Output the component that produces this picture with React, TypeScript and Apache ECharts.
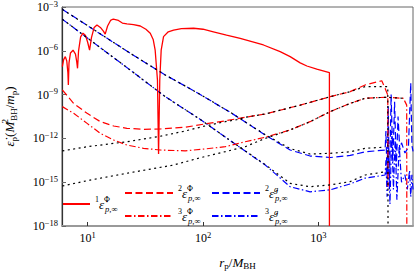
import { useEffect, useRef } from "react";
import * as echarts from "echarts";

type P = [number, number];

const xMin = 6;
const xMax = 6600;
const yMin = 1e-18;
const yMax = 1e-3;

// series names (legend keys)
const N1PHI = "1Φ";
const N2PHI = "2Φ";
const N3PHI = "3Φ";
const N2G = "2g";
const N3G = "3g";

// 1 eps^Phi_{p,inf}  (red solid)
const onePhi: P[] = [
  [6.04, 8.1e-8], [6.2, 2.5e-7], [6.41, 4.0e-7], [6.6, 2.0e-7], [6.75, 3e-8], [6.81, 4.6e-9],
  [6.9, 1.5e-7], [7.1, 7e-7], [7.48, 1.1e-6], [7.85, 6e-7], [8.05, 1.8e-7], [8.18, 6.3e-8],
  [8.35, 1e-6], [8.7, 9e-6], [9.12, 1.6e-5], [9.6, 1.1e-5], [10.0, 4e-6], [10.4, 1.1e-6],
  [10.8, 8e-6], [11.4, 4e-5], [12.05, 5.9e-5], [12.9, 4e-5], [13.7, 2.2e-5], [14.2, 1.4e-5],
  [14.9, 5e-5], [15.8, 1.2e-4], [16.7, 1.5e-4], [18.5, 1.2e-4], [20, 8e-5], [21.9, 6.9e-5],
  [25, 6.2e-5], [28.6, 5.0e-5], [32, 3.0e-5], [34.9, 1.6e-5], [37, 6e-6], [38.5, 1.1e-6],
  [40.3, 1e-8], [41.2, 8.5e-14], [42.2, 1e-8], [43.4, 1.1e-6], [45.5, 9.3e-6], [50, 2e-5],
  [55.6, 2.6e-5], [65, 3.3e-5], [82.8, 3.5e-5], [100, 3e-5], [123, 2.0e-5], [160, 1.2e-5],
  [210, 7.2e-6], [334, 2.5e-6], [466, 8.7e-7], [569, 4.0e-7], [695, 1.5e-7], [794, 9.1e-8],
  [968, 5.6e-8], [1245, 3.2e-8], [1245.5, 1e-18],
];

// 2 eps^Phi (red dashed)
const twoPhi: P[] = [
  [6.04, 2.1e-9], [7.57, 2.5e-10], [9.9, 5.2e-11], [12.9, 1.4e-11], [16.8, 7.1e-12],
  [21.9, 4.9e-12], [30.5, 4.2e-12], [42.6, 4.4e-12], [70, 5.8e-12], [104, 9.8e-12],
  [156, 1.6e-11], [232, 2.8e-11], [346, 4.7e-11], [695, 1.9e-10], [1265, 7.2e-10],
  [1884, 1.6e-9], [2540, 4.6e-9], [3540, 8.9e-9], [3780, 2.7e-9], [3990, 9.3e-10], [4010, 5e-16],
];

// 3 eps^Phi (red dash-dot)
const threePhi: P[] = [
  [6.04, 1.5e-10], [7.57, 5.2e-11], [9.9, 1.07e-11], [12.9, 2.2e-12], [16.8, 7.8e-13],
  [21.9, 3.5e-13], [30.5, 2.1e-13], [42.6, 1.6e-13], [70, 1.4e-13], [104, 1.9e-13],
  [156, 2.7e-13], [232, 5.9e-13], [346, 1.2e-12], [569, 3.8e-12], [847, 1.4e-11],
  [1265, 6.8e-11], [1884, 2.5e-10], [2540, 5.6e-10], [3785, 6.6e-10], [5445, 5.6e-10],
  [5820, 1.9e-10], [5835, 1e-18],
];

// 2 eps^g (blue dashed)
const twoG: P[] = [
  [6.04, 6.9e-4], [23.4, 6.8e-7], [47.1, 2.2e-8], [91.4, 1.2e-9], [178, 5.2e-11],
  [346, 1.7e-12], [569, 1.6e-13], [847, 6.2e-14], [1265, 4.9e-14], [1884, 6.8e-14],
  [2540, 1.2e-13], [3785, 1.6e-13], [3846, 3.2e-12], [3936, 1.6e-15], [4027, 1.6e-10],
  [4121, 3.2e-16], [4266, 1e-9], [4416, 2.5e-14], [4571, 3.2e-10], [4732, 1e-14],
  [4898, 3.2e-11], [5070, 1.6e-13], [5248, 5e-13], [5623, 1e-13], [6026, 2.5e-13],
  [6310, 6.3e-9], [6457, 3.2e-13], [6607, 1.3e-13],
];

// 3 eps^g (blue dash-dot)
const threeG: P[] = [
  [6.04, 1.45e-4], [23.4, 4.8e-8], [47.1, 7.2e-10], [91.4, 2.4e-11], [178, 5.9e-13],
  [346, 1.5e-14], [569, 4.9e-16], [847, 2.2e-16], [1265, 3.0e-16], [1884, 7.6e-16],
  [2540, 1.9e-15], [3785, 3.1e-15], [3846, 3.2e-14], [3936, 1e-16], [4027, 3.2e-13],
  [4169, 3.2e-17], [4315, 3.2e-12], [4467, 3.2e-16], [4624, 1e-12], [4786, 6.3e-17],
  [5012, 3.2e-13], [5248, 1e-15], [5623, 3.2e-15], [5888, 3.2e-16], [6166, 6.3e-15],
  [6310, 1e-16], [6457, 3.2e-15], [6607, 3.2e-16],
];

// black dotted reference curves
const refTwoG: P[] = [
  [6.04, 6.9e-4], [23.4, 6.8e-7], [47.1, 2.2e-8], [91.4, 1.2e-9], [178, 5.2e-11],
  [346, 1.8e-12], [569, 2.0e-13], [847, 8.5e-14], [1265, 9.5e-14], [1884, 1.2e-13],
  [2540, 2.1e-13], [3785, 2.5e-13],
];
const refThreeG: P[] = [
  [6.04, 1.45e-4], [23.4, 4.8e-8], [47.1, 7.2e-10], [91.4, 2.4e-11], [178, 5.9e-13],
  [346, 1.6e-14], [569, 8.3e-16], [847, 4.9e-16], [1265, 6.5e-16], [1884, 1.1e-15],
  [2540, 3.1e-15], [3785, 5.2e-15],
];
const refTwoPhi: P[] = [
  [6.04, 1.4e-13], [10, 2.7e-13], [21.9, 5.9e-13], [42.6, 1.4e-12], [70, 3.2e-12],
  [104, 7.1e-12], [156, 1.4e-11], [196, 1.9e-11], [232, 2.8e-11], [346, 4.7e-11],
  [695, 1.9e-10], [1265, 7.2e-10], [1884, 1.6e-9], [2540, 3.5e-9], [3000, 3.5e-9],
  [3700, 3.5e-9], [3990, 3.5e-9], [4010, 1e-18],
];
const refThreePhi: P[] = [
  [6.04, 5.5e-16], [10.5, 1.4e-15], [21.9, 4.1e-15], [55.6, 1.5e-14], [91.4, 4.4e-14],
  [178, 1.6e-13], [232, 2.7e-13], [346, 1.0e-12], [569, 3.8e-12], [847, 1.4e-11],
  [1265, 6.8e-11], [1884, 2.5e-10], [2540, 5.6e-10], [3785, 6.6e-10], [5445, 5.6e-10],
];

const SERIF = "Liberation Serif";
const RED = "#ff0000";
const BLUE = "#0000ff";
const DASH = [7, 3.5];
const DASHDOT = [6.5, 2.5, 1.5, 2.5];
const DOT = [2, 3.5];

const legendLabels: Record<string, string> = {
  [N1PHI]: "{pre|1}{e|ε̇}{sup|Φ}{sub|p,∞}",
  [N2PHI]: "{pre|2}{e|ε̇}{sup|Φ}{sub|p,∞}",
  [N3PHI]: "{pre|3}{e|ε̇}{sup|Φ}{sub|p,∞}",
  [N2G]: "{pre|2}{e|ε̇}{supi|g}{sub|p,∞}",
  [N3G]: "{pre|3}{e|ε̇}{supi|g}{sub|p,∞}",
};

const legendRich = {
  pre: { fontFamily: SERIF, fontSize: 8, verticalAlign: "top", lineHeight: 10, color: "#000" },
  e: { fontFamily: SERIF, fontSize: 13, fontStyle: "italic", lineHeight: 18, color: "#000" },
  sup: { fontFamily: SERIF, fontSize: 8, verticalAlign: "top", lineHeight: 10, width: 1, color: "#000" },
  supi: { fontFamily: SERIF, fontSize: 8.5, fontStyle: "italic", verticalAlign: "top", lineHeight: 10, width: 1, color: "#000" },
  sub: { fontFamily: SERIF, fontSize: 8.5, fontStyle: "italic", verticalAlign: "bottom", lineHeight: 10, color: "#000" },
};

function line(name: string, data: P[], color: string, type: any, width: number, z: number) {
  return {
    name,
    type: "line",
    data,
    showSymbol: false,
    symbol: "none",
    lineStyle: { color, type, width },
    itemStyle: { color },
    z,
    clip: true,
  };
}

const legendBase = {
  textStyle: { fontFamily: SERIF, fontSize: 12, rich: legendRich },
  formatter: (n: string) => legendLabels[n] || n,
  itemHeight: 10,
  padding: 0,
  selectedMode: false,
  itemStyle: { opacity: 0, borderWidth: 0 },
};

const option: any = {
  animation: false,
  grid: {
    left: 62, right: 2, top: 7, bottom: 49,
    show: true, borderColor: "#666", borderWidth: 1,
    containLabel: false, outerBoundsMode: "none",
  },
  xAxis: {
    type: "log",
    logBase: 10,
    min: xMin,
    max: xMax,
    name: "{i|r}{sub|p}{n|/}{i|M}{sub|BH}",
    nameLocation: "middle",
    nameGap: 28,
    nameTextStyle: {
      rich: {
        i: { fontFamily: SERIF, fontSize: 13, fontStyle: "italic", lineHeight: 16, color: "#000" },
        n: { fontFamily: SERIF, fontSize: 13, lineHeight: 16, color: "#000" },
        sub: { fontFamily: SERIF, fontSize: 9, verticalAlign: "bottom", lineHeight: 10, color: "#000" },
      },
    },
    axisLine: { show: true, lineStyle: { color: "#999", width: 2 } },
    axisTick: { show: true, inside: true, length: 4, lineStyle: { color: "#333" } },
    minorTick: { show: false },
    splitLine: { show: false },
    axisLabel: {
      showMinLabel: false,
      showMaxLabel: false,
      margin: 4,
      formatter: (v: number) => `{b|10}{s|${Math.round(Math.log10(v))}}`,
      rich: {
        b: { fontFamily: SERIF, fontSize: 12, lineHeight: 16, color: "#000" },
        s: { fontFamily: SERIF, fontSize: 8.5, verticalAlign: "top", lineHeight: 10, color: "#000" },
      },
    },
  },
  yAxis: {
    type: "log",
    logBase: 1000,
    min: yMin,
    max: yMax,
    name: "{e|ε̇}{sub|p}{n|(}{i|M}{sup|2}{sub|BH}{n|/}{i|m}{sub|p}{n|)}",
    nameLocation: "middle",
    nameGap: 44,
    nameTextStyle: {
      rich: {
        e: { fontFamily: SERIF, fontSize: 13, fontStyle: "italic", lineHeight: 18, color: "#000" },
        i: { fontFamily: SERIF, fontSize: 13, fontStyle: "italic", lineHeight: 18, color: "#000" },
        n: { fontFamily: SERIF, fontSize: 13, lineHeight: 18, color: "#000" },
        sup: { fontFamily: SERIF, fontSize: 9, verticalAlign: "top", lineHeight: 10, width: 1, color: "#000" },
        sub: { fontFamily: SERIF, fontSize: 9, verticalAlign: "bottom", lineHeight: 10, color: "#000" },
      },
    },
    axisLine: { show: true, lineStyle: { color: "#333", width: 1.2 } },
    axisTick: { show: true, inside: true, length: 4, lineStyle: { color: "#666" } },
    minorTick: { show: false },
    splitLine: { show: false },
    axisLabel: {
      margin: 4,
      formatter: (v: number) => `{b|10}{s|−${-Math.round(Math.log10(v))}}`,
      rich: {
        b: { fontFamily: SERIF, fontSize: 12, lineHeight: 16, color: "#000" },
        s: { fontFamily: SERIF, fontSize: 8.5, verticalAlign: "top", lineHeight: 10, color: "#000" },
      },
    },
  },
  legend: [
    { ...legendBase, data: [N1PHI], left: 62, top: 195, itemWidth: 27 },
    { ...legendBase, data: [N2PHI, N3PHI], orient: "vertical", left: 124, top: 184, itemWidth: 48, itemGap: 5 },
    { ...legendBase, data: [N2G, N3G], orient: "vertical", left: 211, top: 184, itemWidth: 48, itemGap: 5 },
  ],
  series: [
    line(N1PHI, onePhi, RED, "solid", 1.3, 3),
    line(N2PHI, twoPhi, RED, DASH, 1.2, 3),
    line(N3PHI, threePhi, RED, DASHDOT, 1.2, 3),
    line(N2G, twoG, BLUE, DASH, 1.2, 2),
    line(N3G, threeG, BLUE, DASHDOT, 1.2, 2),
    line("ref2g", refTwoG, "#000", DOT, 1.2, 4),
    line("ref3g", refThreeG, "#000", DOT, 1.2, 4),
    line("ref2Φ", refTwoPhi, "#000", DOT, 1.2, 4),
    line("ref3Φ", refThreePhi, "#000", DOT, 1.2, 4),
  ],
};

export default function App() {
  const ref = useRef<HTMLDivElement>(null);
  useEffect(() => {
    const chart = echarts.init(ref.current!, null, { renderer: "svg" });
    chart.setOption(option);
    return () => chart.dispose();
  }, []);
  return (
    <div
      ref={ref}
      style={{ position: "absolute", left: 0, top: 0, width: 415, height: 275, background: "#fff" }}
    />
  );
}
